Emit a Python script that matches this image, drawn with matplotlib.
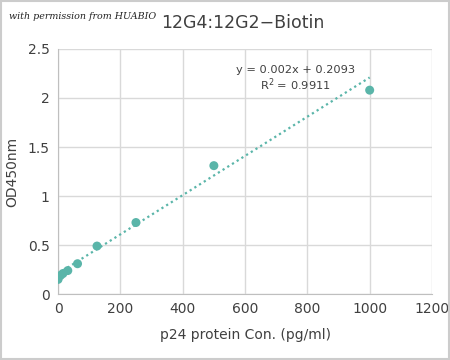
import matplotlib
matplotlib.use("Agg")
import matplotlib.pyplot as plt
import numpy as np

conc = [0, 7.8, 15.6, 31.25, 62.5, 125, 250, 500, 1000]
od = [0.15, 0.19, 0.21, 0.24, 0.31, 0.49, 0.73, 1.31, 2.08]
xticks = [0, 200, 400, 600, 800, 1000, 1200]
yticks = [0, 0.5, 1, 1.5, 2, 2.5]
ytick_labels = ["0", "0.5", "1", "1.5", "2", "2.5"]

color = "#5ab5a9"
fig = plt.figure(figsize=(4.5, 3.6), dpi=100)
ax = fig.add_axes([0.129, 0.183, 0.831, 0.681])
ax.scatter(conc, od, s=42, color=color, zorder=3, edgecolors="none")
slope, intercept = 0.002, 0.2093
xl = np.array([conc[0], conc[-1]])
ax.plot(xl, slope * xl + intercept, linestyle=(0, (1, 1.5)), color=color, lw=1.6, zorder=2)
ax.set_xlim(0, 1200)
ax.set_ylim(0, 2.5)
ax.set_xticks(xticks)
ax.set_yticks(yticks)
ax.set_yticklabels(ytick_labels)
ax.grid(True, color="#d9d9d9", lw=1)
ax.set_axisbelow(True)
for s in ["top", "right"]:
    ax.spines[s].set_visible(False)
ax.spines["left"].set_color("#bfbfbf")
ax.spines["bottom"].set_color("#bfbfbf")
ax.tick_params(length=0, labelsize=10, colors="#404040", pad=6)
ax.set_xlabel("p24 protein Con. (pg/ml)", fontsize=10, color="#404040", labelpad=8)
ax.set_ylabel("OD450nm", fontsize=10, color="#404040", labelpad=6)
ax.text(0.636, 0.935, "y = 0.002x + 0.2093\nR$^2$ = 0.9911", transform=ax.transAxes,
        ha="center", va="top", multialignment="center", fontsize=8.2, color="#404040",
        linespacing=1.15)
fig.text(0.54, 0.935, "12G4:12G2\u2212Biotin", ha="center", va="center", fontsize=12.5, color="#404040")
fig.text(0.02, 0.953, "with permission from HUABIO", ha="left", va="center", fontsize=6.8,
         style="italic", family="DejaVu Serif", color="#222222")
fig.patches.append(plt.Rectangle((0.003, 0.003), 0.994, 0.994, transform=fig.transFigure,
                                 fill=False, edgecolor="#cccccc", lw=1.5))
fig.savefig("out.png", dpi=100)
